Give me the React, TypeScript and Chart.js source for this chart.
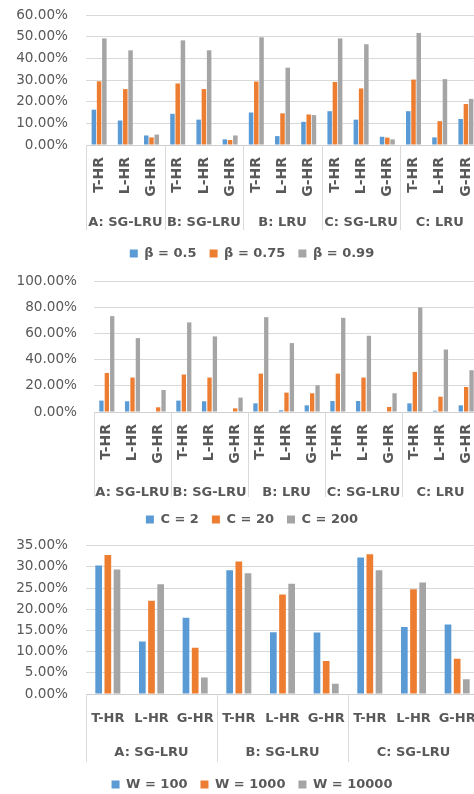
import React, { useEffect, useRef } from "react";
import { Chart, registerables } from "chart.js";

Chart.register(...registerables);

// ---------- data ----------
const subLabels15 = [
  "T-HR", "L-HR", "G-HR",
  "T-HR", "L-HR", "G-HR",
  "T-HR", "L-HR", "G-HR",
  "T-HR", "L-HR", "G-HR",
  "T-HR", "L-HR", "G-HR",
];
const groupLabels5 = ["A: SG-LRU", "B: SG-LRU", "B: LRU", "C: SG-LRU", "C: LRU"];

const subLabels9 = [
  "T-HR", "L-HR", "G-HR",
  "T-HR", "L-HR", "G-HR",
  "T-HR", "L-HR", "G-HR",
];
const groupLabels3 = ["A: SG-LRU", "B: SG-LRU", "C: SG-LRU"];

// chart 1 (beta)
const beta05 = [16.3, 11.3, 4.4, 14.4, 11.7, 2.6, 15.0, 4.1, 10.7, 15.6, 11.7, 3.8, 15.6, 3.5, 12.0];
const beta075 = [29.4, 25.8, 3.5, 28.4, 25.8, 2.3, 29.3, 14.6, 14.1, 29.1, 26.1, 3.4, 30.2, 11.0, 18.9];
const beta099 = [49.2, 43.7, 4.8, 48.3, 43.7, 4.4, 49.7, 35.7, 13.8, 49.2, 46.5, 2.6, 51.7, 30.4, 21.3];

// chart 2 (C)
const c2 = [8.7, 8.2, 0, 8.7, 8.2, 0, 6.6, 1.3, 5.1, 8.4, 8.4, 0, 6.6, 1.0, 5.1];
const c20 = [29.8, 26.3, 3.6, 28.6, 26.3, 2.8, 29.3, 14.8, 14.3, 29.3, 26.3, 3.8, 30.6, 11.7, 19.1];
const c200 = [73.2, 56.4, 16.8, 68.4, 57.7, 11.0, 72.4, 52.6, 20.4, 71.9, 58.2, 14.3, 79.8, 47.7, 31.9];

// chart 3 (W)
const w100 = [30.3, 12.4, 18.0, 29.2, 14.6, 14.5, 32.2, 15.8, 16.4];
const w1000 = [32.8, 22.0, 10.9, 31.3, 23.5, 7.8, 33.0, 24.7, 8.3];
const w10000 = [29.4, 25.9, 3.9, 28.5, 26.0, 2.4, 29.2, 26.3, 3.5];

const seriesNames1 = ["β = 0.5", "β = 0.75", "β = 0.99"];
const seriesNames2 = ["C = 2", "C = 20", "C = 200"];
const seriesNames3 = ["W = 100", "W = 1000", "W = 10000"];

const COLORS = ["#5B9BD5", "#ED7D31", "#A5A5A5"];
const GRID = "#d9d9d9";
const TEXT = "#595959";
const FONT = "'DejaVu Sans', sans-serif";

const sepPlugin = {
  id: "groupSep",
  afterDraw(chart: any, _args: any, opts: any) {
    const x2 = chart.scales.x2;
    const area = chart.chartArea;
    const n = x2.getLabels().length;
    const w = (x2.right - x2.left) / n;
    const ctx = chart.ctx;
    ctx.save();
    ctx.strokeStyle = GRID;
    ctx.lineWidth = 1;
    ctx.beginPath();
    for (let i = 0; i <= n; i++) {
      const x = Math.round(x2.left + i * w) + 0.5;
      ctx.moveTo(x, area.bottom);
      ctx.lineTo(x, area.bottom + opts.len);
    }
    ctx.stroke();
    ctx.restore();
  },
};

type Cfg = {
  top: number;
  height: number;
  labels: string[];
  groups: string[];
  names: string[];
  series: number[][];
  yMax: number;
  yStep: number;
  yWidth: number;
  yGap: number;
  padTop: number;
  xHeight: number;
  xPad: number;
  x2Height: number;
  x2Pad: number;
  rotate: boolean;
  catPct: number;
  barPct: number;
  sepLen: number;
};

const charts: Cfg[] = [
  {
    top: 0, height: 270, labels: subLabels15, groups: groupLabels5, names: seriesNames1,
    series: [beta05, beta075, beta099], yMax: 60, yStep: 10, yWidth: 86, yGap: 18,
    padTop: 15, xHeight: 63, xPad: 12, x2Height: 26, x2Pad: 7, rotate: true,
    catPct: 0.6, barPct: 0.86, sepLen: 85,
  },
  {
    top: 268, height: 268, labels: subLabels15, groups: groupLabels5, names: seriesNames2,
    series: [c2, c20, c200], yMax: 100, yStep: 20, yWidth: 94, yGap: 17,
    padTop: 13, xHeight: 63, xPad: 12, x2Height: 25, x2Pad: 9.5, rotate: true,
    catPct: 0.63, barPct: 0.8, sepLen: 85,
  },
  {
    top: 530, height: 271, labels: subLabels9, groups: groupLabels3, names: seriesNames3,
    series: [w100, w1000, w10000], yMax: 35, yStep: 5, yWidth: 86, yGap: 18,
    padTop: 15.7, xHeight: 42, xPad: 17, x2Height: 29, x2Pad: 8.5, rotate: false,
    catPct: 0.63, barPct: 0.73, sepLen: 68,
  },
];

function BarChart({ cfg }: { cfg: Cfg }) {
  const ref = useRef<HTMLCanvasElement | null>(null);
  useEffect(() => {
    const chart = new Chart(ref.current as HTMLCanvasElement, {
      type: "bar",
      data: {
        labels: cfg.labels,
        datasets: cfg.series.map((s, i) => ({
          label: cfg.names[i],
          data: s,
          backgroundColor: COLORS[i],
          borderWidth: 0,
          categoryPercentage: cfg.catPct,
          barPercentage: cfg.barPct,
        })),
      },
      options: {
        responsive: false,
        animation: false,
        devicePixelRatio: 1,
        layout: { padding: { top: cfg.padTop, left: 0, right: 0, bottom: 0 } },
        plugins: {
          tooltip: { enabled: false },
          legend: {
            position: "bottom",
            labels: {
              boxWidth: 8,
              boxHeight: 8,
              padding: 13,
              color: TEXT,
              font: { family: FONT, size: 13, weight: "bold" },
            },
          },
          groupSep: { len: cfg.sepLen },
        } as any,
        scales: {
          x: {
            type: "category",
            position: "bottom",
            offset: true,
            grid: { display: true, drawOnChartArea: false, drawTicks: false },
            border: { display: true, color: "#cfcfcf" },
            ticks: {
              autoSkip: false,
              minRotation: cfg.rotate ? 90 : 0,
              maxRotation: cfg.rotate ? 90 : 0,
              padding: cfg.xPad,
              color: TEXT,
              font: { family: FONT, size: cfg.rotate ? 14 : 13, weight: "bold" },
            },
            afterFit: (s: any) => { s.height = cfg.xHeight; },
          },
          x2: {
            type: "category",
            position: "bottom",
            weight: 1,
            labels: cfg.groups,
            offset: true,
            grid: { display: false, drawTicks: false },
            border: { display: false },
            ticks: {
              autoSkip: false,
              maxRotation: 0,
              minRotation: 0,
              padding: cfg.x2Pad,
              color: TEXT,
              font: { family: FONT, size: 13, weight: "bold" },
            },
            afterFit: (s: any) => { s.height = cfg.x2Height; },
          },
          y: {
            type: "linear",
            position: "left",
            min: 0,
            max: cfg.yMax,
            grid: {
              color: GRID,
              drawTicks: true,
              tickLength: cfg.yGap - 2,
              tickColor: "rgba(0,0,0,0)",
            },
            border: { display: false },
            ticks: {
              stepSize: cfg.yStep,
              padding: 2,
              color: TEXT,
              font: { family: FONT, size: 13.6 },
              callback: (v: any) => Number(v).toFixed(2) + "%",
            },
            afterFit: (s: any) => { s.width = cfg.yWidth; },
          },
          yr: {
            type: "linear",
            position: "right",
            display: true,
            grid: { display: false, drawTicks: false },
            border: { display: false },
            ticks: { display: false },
            afterFit: (s: any) => { s.width = 25; },
          },
        } as any,
      },
      plugins: [sepPlugin as any],
    });
    return () => chart.destroy();
  }, []);
  return (
    <canvas
      ref={ref}
      width={504}
      height={cfg.height}
      style={{ position: "absolute", left: 0, top: cfg.top, width: 504, height: cfg.height }}
    />
  );
}

export default function App() {
  return (
    <div
      style={{
        position: "absolute",
        left: 0,
        top: 0,
        width: 474,
        height: 794,
        overflow: "hidden",
        background: "#ffffff",
      }}
    >
      {charts.map((c, i) => (
        <BarChart key={i} cfg={c} />
      ))}
    </div>
  );
}
